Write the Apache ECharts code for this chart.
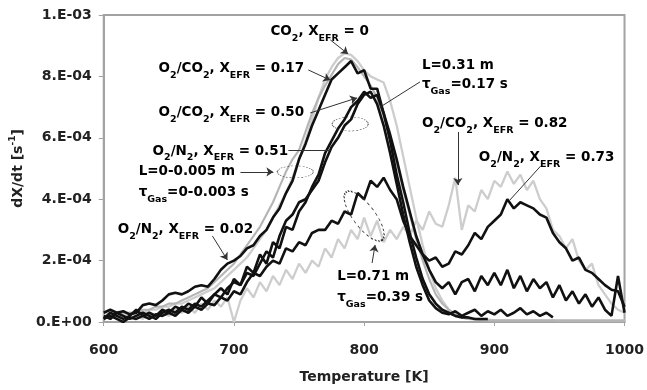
<!DOCTYPE html>
<html><head><meta charset="utf-8">
<script src="https://cdn.jsdelivr.net/npm/echarts@6/dist/echarts.min.js"></script>
<style>html,body{margin:0;padding:0;background:#fff}#c{width:647px;height:390px}</style>
</head><body><div id="c"></div>
<script>
// Temperature [K]
const temps = [600,605,610,615,620,625,630,635,640,645,650,655,660,665,670,675,680,685,690,695,
700,705,710,715,720,725,730,735,740,745,750,755,760,765,770,775,780,785,790,795,
800,805,810,815,820,825,830,835,840,845,850,855,860,865,870,875,880,885,890,895,
900,905,910,915,920,925,930,935,940,945,950,955,960,965,970,975,980,985,990,995,1000];

// dX/dt in units of 1e-4 s^-1
const co2_x0 = [0.2,0.2,0.3,0.2,0.3,0.3,0.3,0.4,0.4,0.5,
0.5,0.6,0.6,0.7,0.8,0.9,1.0,1.1,1.3,1.5,
1.7,1.9,2.1,2.4,2.7,3.0,3.4,3.8,4.2,4.7,
5.3,5.9,6.6,7.3,7.9,8.3,8.6,8.75,8.7,8.5,
8.2,8.0,7.9,7.8,7.2,6.4,5.4,4.4,3.4,2.5,
1.7,1.1,0.7,0.4,0.25,0.15,0.1,0.1,0.08,0.08,
0.06,0.06,0.06,0.06,0.06,0.06,0.06,0.06,0.06,0.06,
0.05,0.05,0.05,0.05,0.05,0.05,0.05,0.05,0.05,0.05,0.05];

const o2co2_017 = [0.1,0.2,0.2,0.3,0.3,0.3,0.4,0.4,0.5,0.5,
0.6,0.6,0.7,0.8,0.9,1.0,1.1,1.3,1.5,1.7,
1.9,2.2,2.5,2.8,3.1,3.5,3.9,4.4,4.9,5.3,
5.6,6.2,6.8,7.3,7.7,8.05,8.4,8.6,8.55,8.3,
8.0,7.7,7.3,6.7,6.0,5.2,4.3,3.5,2.7,2.0,
1.4,0.9,0.6,0.4,0.25,0.15,0.1,0.08,0.06,0.05,
0.05,0.05,0.05,0.05,0.05,0.05,0.05,0.05,0.05,0.05,
0.05,0.05,0.05,0.05,0.05,0.05,0.05,0.05,0.05,0.05,0.05];

const o2co2_082 = [0.2,0.3,0.1,0.2,0.3,0.2,0.1,0.3,0.2,0.3,
0.2,0.4,0.3,0.5,0.3,0.6,0.4,0.7,0.5,0.8,
0.0,0.7,1.1,0.8,1.3,1.0,1.5,1.2,1.7,1.4,
1.9,1.6,2.0,1.8,2.4,2.1,2.7,2.4,3.0,2.7,
3.4,2.8,3.3,2.6,3.0,2.7,3.1,2.8,3.3,3.0,
3.6,3.2,3.1,3.8,4.7,3.0,3.8,3.6,4.3,4.0,
4.6,4.4,4.9,4.5,4.8,4.3,4.6,4.0,3.7,3.0,
2.8,2.4,2.7,2.0,1.7,1.9,1.2,0.9,0.6,0.4,0.3];

const o2n2_002 = [0.3,0.4,0.3,0.35,0.25,0.3,0.55,0.6,0.55,0.7,
0.9,0.95,0.9,1.0,1.15,1.2,1.15,1.4,1.7,1.9,
2.0,2.15,2.4,2.5,2.8,3.0,3.4,3.7,4.2,4.6,
5.3,5.8,6.4,6.9,7.4,7.9,8.1,8.3,8.5,8.1,
8.2,7.6,7.6,6.8,5.9,4.8,3.9,2.9,2.1,1.4,
0.9,0.6,0.4,0.3,0.2,0.15,0.15,0.1,0.1,0.1,
null,null,null,null,null,null,null,null,null,null,
null,null,null,null,null,null,null,null,null,null,null];

const o2co2_050 = [0.2,0.1,0.3,0.2,0.1,0.2,0.3,0.2,0.1,0.3,
0.4,0.3,0.5,0.4,0.6,0.5,0.7,0.9,0.8,1.1,
1.3,1.2,1.6,1.5,1.9,2.3,2.1,2.8,3.3,3.5,
3.9,4.0,4.3,4.6,5.2,5.7,6.0,6.4,6.6,7.1,
7.4,7.5,7.1,6.4,5.5,4.5,3.5,2.6,1.8,1.2,
0.7,0.45,0.3,0.25,0.35,0.2,0.3,0.4,0.2,0.35,
0.25,0.4,0.2,0.3,0.45,0.25,0.35,0.2,0.3,0.15,
null,null,null,null,null,null,null,null,null,null,null];

const o2n2_051 = [0.1,0.3,0.2,0.1,0.2,0.4,0.2,0.3,0.2,0.4,
0.3,0.5,0.4,0.6,0.5,0.8,0.6,0.9,1.1,0.9,
1.4,1.2,1.8,1.6,2.2,1.9,2.6,2.4,3.1,3.0,
3.6,3.9,4.4,4.8,5.5,5.9,6.3,6.6,7.0,7.2,
7.5,7.3,7.4,6.8,6.1,5.3,4.4,3.6,2.8,2.2,
1.7,1.3,1.1,1.3,0.9,1.3,1.4,1.0,1.5,1.2,
1.6,1.2,1.7,1.1,1.5,1.0,1.4,1.1,1.3,0.8,
1.2,0.7,1.0,0.6,0.9,0.5,0.8,0.4,0.2,1.5,0.3];

const o2n2_073 = [0.1,0.2,0.1,0.0,0.15,0.1,0.2,0.1,0.25,0.2,
0.3,0.2,0.4,0.3,0.5,0.4,0.6,0.55,0.8,0.7,
1.0,0.9,1.3,1.6,1.5,1.8,2.0,1.9,2.4,2.3,
2.6,2.5,2.9,3.0,3.0,3.3,3.2,3.6,3.5,4.2,
4.0,4.6,4.4,4.7,4.3,4.0,3.3,2.8,2.5,2.2,
2.0,2.1,1.8,1.9,2.3,2.2,2.5,2.9,2.7,3.1,
3.3,3.5,4.0,3.7,3.9,3.8,3.7,3.5,3.4,2.9,
2.6,2.4,2.0,2.1,1.7,1.6,1.4,1.2,1.05,1.0,0.5];

const yTickLabels = ['0.E+00','2.E-04','4.E-04','6.E-04','8.E-04','1.E-03'];

const FONT = '"DejaVu Sans", "Liberation Sans", sans-serif';
const TXT = '#222';
const BLACK = '#111';
const LIGHT = '#cdcdcd';
const MID = '#b4b4b4';

// annotations: rich text anchored in data coordinates [T, value]
const notes = [
  {t:'{n|CO}{s|2}{n|, X}{s|EFR}{n| = 0}', at:[728,9.45]},
  {t:'{n|O}{s|2}{n|/CO}{s|2}{n|, X}{s|EFR}{n| = 0.17}', at:[642.1,8.27]},
  {t:'{n|O}{s|2}{n|/CO}{s|2}{n|, X}{s|EFR}{n| = 0.50}', at:[642.1,6.81]},
  {t:'{n|O}{s|2}{n|/N}{s|2}{n|, X}{s|EFR}{n| = 0.51}', at:[637.5,5.57]},
  {t:'{n|L=0-0.005 m}', at:[626.8,4.89]},
  {t:'{n|τ}{s|Gas}{n|=0-0.003 s}', at:[626.8,4.23]},
  {t:'{n|O}{s|2}{n|/N}{s|2}{n|, X}{s|EFR}{n| = 0.02}', at:[610.7,3.0]},
  {t:'{n|L=0.31 m}', at:[844.4,8.37]},
  {t:'{n|τ}{s|Gas}{n|=0.17 s}', at:[844.4,7.72]},
  {t:'{n|O}{s|2}{n|/CO}{s|2}{n|, X}{s|EFR}{n| = 0.82}', at:[844.4,6.48]},
  {t:'{n|O}{s|2}{n|/N}{s|2}{n|, X}{s|EFR}{n| = 0.73}', at:[888.1,5.37]},
  {t:'{n|L=0.71 m}', at:[779.3,1.47]},
  {t:'{n|τ}{s|Gas}{n|=0.39 s}', at:[779.3,0.81]}
];
const pointers = [
  {from:[774,9.19], to:[787.7,8.73], head:true},
  {from:[757.1,8.21], to:[774,7.88], head:true},
  {from:[758.6,6.81], to:[794.6,7.30], head:true},
  {from:[741.8,5.60], to:[774,5.60], head:false},
  {from:[705,4.89], to:[730.3,4.89], head:true},
  {from:[683.5,2.80], to:[695,2.02], head:true},
  {from:[842.9,7.82], to:[812.3,7.0], head:false},
  {from:[872,6.19], to:[872,4.46], head:true},
  {from:[935.6,5.08], to:[911.9,3.97], head:false},
  {from:[806.1,1.92], to:[808.4,2.51], head:true}
];
const ovals = [
  {c:[747.1,4.89], rx:18, ry:6, rot:0},
  {c:[789.3,6.45], rx:18, ry:7, rot:0},
  {c:[800,3.45], rx:30, ry:11, rot:-0.93}
];

const rich = {
  n:{fontSize:13.5, fontWeight:'bold', color:TXT, fontFamily:FONT, lineHeight:20, verticalAlign:'middle'},
  s:{fontSize:9.5, fontWeight:'bold', color:TXT, fontFamily:FONT, lineHeight:24, verticalAlign:'bottom'}
};

function pairs(arr){
  const out = [];
  temps.forEach((t,i)=>{ if(arr[i]!==null) out.push([t, arr[i]]); });
  return out;
}
function line(name, arr, color, width, extra){
  return Object.assign({name, type:'line', data:pairs(arr), showSymbol:false, symbol:'none',
    lineStyle:{color, width}, silent:true, animation:false, z:2}, extra||{});
}

const chart = echarts.init(document.getElementById('c'), null, {renderer:'canvas'});
const axisGray = '#a3a3a3';
const option = {
  animation:false,
  backgroundColor:'#fff',
  grid:{left:102, right:19, top:15, bottom:68, show:true, borderColor:axisGray, borderWidth:2, backgroundColor:'transparent'},
  xAxis:{type:'value', min:600, max:1000, interval:100,
    name:'Temperature [K]', nameLocation:'middle', nameGap:48,
    nameTextStyle:{fontSize:14, fontWeight:'bold', color:TXT, fontFamily:FONT},
    axisLine:{lineStyle:{color:axisGray, width:2}},
    axisTick:{show:true, inside:false, length:4, lineStyle:{color:axisGray}},
    axisLabel:{margin:21, fontSize:14, fontWeight:'bold', color:TXT, fontFamily:FONT,
      formatter:(v)=>String(v)},
    splitLine:{show:false}},
  yAxis:{type:'value', min:0, max:10, interval:2,
    name:'{n|dX/dt [s}{p|-1}{n|]}', nameLocation:'middle', nameGap:74,
    nameTextStyle:{rich:{
      n:{fontSize:14, fontWeight:'bold', color:TXT, fontFamily:FONT, lineHeight:20},
      p:{fontSize:9, fontWeight:'bold', color:TXT, fontFamily:FONT, lineHeight:20, verticalAlign:'top'}}},
    axisLine:{show:true, lineStyle:{color:axisGray, width:2}},
    axisTick:{show:true, inside:false, length:5, lineStyle:{color:axisGray}},
    axisLabel:{margin:12, fontSize:14, fontWeight:'bold', color:TXT, fontFamily:FONT,
      formatter:(v)=>yTickLabels[Math.round(v/2)]},
    splitLine:{show:false}},
  series:[
    line('O2/CO2 0.82', o2co2_082, LIGHT, 2.3),
    line('CO2 0', co2_x0, LIGHT, 2.3),
    line('O2/CO2 0.17', o2co2_017, MID, 2.1),
    line('O2/N2 0.73', o2n2_073, BLACK, 2.6),
    line('O2/N2 0.51', o2n2_051, BLACK, 2.6),
    line('O2/CO2 0.50', o2co2_050, BLACK, 2.6),
    line('O2/N2 0.02', o2n2_002, BLACK, 2.6, {
      markLine:{silent:true, animation:false, symbolSize:7,
        label:{show:false}, emphasis:{disabled:true},
        lineStyle:{color:'#333', width:1, type:'solid'},
        data: pointers.map(p=>[
          {coord:p.from, symbol:'none'},
          {coord:p.to, symbol:p.head?'arrow':'none'}])}
    })
  ]
};
chart.setOption(option);

const g = [];
notes.forEach(n=>{
  const p = chart.convertToPixel({gridIndex:0}, n.at);
  g.push({type:'text', x:p[0], y:p[1], z:10, silent:true,
    style:{text:n.t, rich, align:'left', verticalAlign:'middle'}});
});
ovals.forEach(o=>{
  const p = chart.convertToPixel({gridIndex:0}, o.c);
  g.push({type:'circle', x:p[0], y:p[1], rotation:o.rot, scaleY:o.ry/o.rx, z:10, silent:true,
    shape:{cx:0, cy:0, r:o.rx},
    style:{fill:'none', stroke:'#333', lineWidth:1.2, lineDash:[2,2], strokeNoScale:true}});
});
chart.setOption({graphic:g});
</script>
</body></html>
